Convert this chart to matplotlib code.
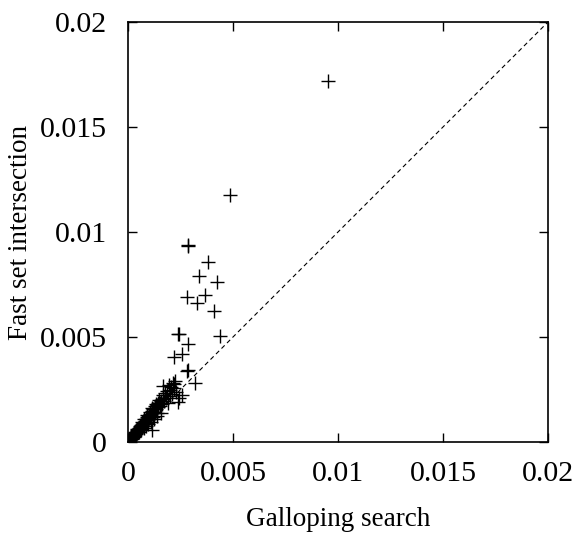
import numpy as np
import matplotlib.pyplot as plt

# timings in milliseconds, converted to seconds below
gallop_ms = [0.02, 0.04, 0.05, 0.07, 0.08, 0.10, 0.11, 0.13, 0.15, 0.16, 0.18, 0.20,
             0.21, 0.23, 0.25, 0.27, 0.28, 0.30, 0.32, 0.34, 0.36, 0.38, 0.40, 0.42,
             0.44, 0.46, 0.48, 0.50, 0.52, 0.55, 0.57, 0.60, 0.62, 0.65, 0.67, 0.70,
             0.72, 0.75, 0.78, 0.80, 0.83, 0.85, 0.88, 0.90, 0.93, 0.95, 0.98, 1.00,
             1.03, 1.06, 1.10, 1.12, 1.15, 1.18, 1.20, 1.25, 1.28, 1.30, 1.35, 1.38,
             1.42, 1.45, 1.50, 1.55, 1.60, 1.65, 1.70,
             0.30, 0.60, 0.90, 1.13, 1.20, 1.40,
             0.12, 0.22, 0.35, 0.45, 0.55, 0.68, 0.78, 0.92, 1.05, 1.16, 1.32, 1.48,
             0.18, 0.28, 0.40, 0.52, 0.63, 0.74, 0.86, 0.97, 1.08, 1.22, 1.36, 1.58,
             1.52, 1.67, 1.67, 1.80, 1.90, 2.00, 2.05, 2.14, 2.20, 2.24, 2.38, 2.57,
             2.30, 1.95, 2.10, 2.45, 1.85, 1.75, 2.02, 2.18,
             3.20, 2.81, 2.85, 2.19, 2.57, 2.86, 2.43, 2.38, 4.38, 4.10, 3.29, 3.67,
             2.81, 4.24, 3.38, 3.81, 2.84, 2.86, 4.88, 9.52]
fast_ms = [0.03, 0.05, 0.07, 0.08, 0.11, 0.12, 0.15, 0.15, 0.19, 0.20, 0.22, 0.24,
           0.28, 0.27, 0.31, 0.33, 0.36, 0.35, 0.40, 0.41, 0.45, 0.44, 0.50, 0.52,
           0.55, 0.53, 0.60, 0.62, 0.66, 0.63, 0.70, 0.74, 0.80, 0.75, 0.84, 0.86,
           0.92, 0.88, 0.97, 1.02, 0.95, 1.08, 1.10, 1.18, 1.05, 1.20, 1.25, 1.15,
           1.30, 1.35, 1.25, 1.42, 1.48, 1.36, 1.55, 1.45, 1.62, 1.70, 1.55, 1.75,
           1.65, 1.85, 1.72, 1.95, 1.82, 2.05, 1.95,
           0.30, 0.60, 0.90, 0.57, 1.20, 1.40,
           0.18, 0.32, 0.50, 0.64, 0.78, 0.95, 1.10, 1.30, 1.45, 1.62, 1.80, 2.00,
           0.16, 0.25, 0.36, 0.46, 0.56, 0.66, 0.76, 0.86, 0.96, 1.08, 1.22, 1.40,
           1.86, 2.24, 2.67, 2.10, 1.86, 2.48, 2.60, 2.81, 2.75, 2.90, 1.90, 2.24,
           2.40, 2.70, 2.30, 2.10, 2.45, 2.35, 2.20, 2.55,
           2.80, 3.38, 3.42, 4.05, 4.19, 4.67, 5.14, 5.14, 5.05, 6.24, 6.62, 7.00,
           6.90, 7.62, 7.90, 8.57, 9.33, 9.36, 11.76, 17.20]

ticks = [0, 0.005, 0.01, 0.015, 0.02]
tick_labels = ['0', '0.005', '0.01', '0.015', '0.02']

x = np.array(gallop_ms) / 1000
y = np.array(fast_ms) / 1000

plt.rcParams['font.family'] = ['Liberation Serif', 'DejaVu Serif']
plt.rcParams['font.size'] = 19.5

fig = plt.figure(figsize=(5.8, 5.35), dpi=100)
ax = fig.add_axes([0.2207, 0.1738, 0.7241, 0.7851])

ax.plot([0, 0.02], [0, 0.02], color='black', lw=0.8, dashes=(4, 3))
ax.plot(x, y, linestyle='none', marker='+', color='black', ms=10, mew=1.0)

ax.set_xlim(0, 0.02)
ax.set_ylim(0, 0.02)
ax.set_xticks(ticks)
ax.set_xticklabels(tick_labels)
ax.set_yticks(ticks)
ax.set_yticklabels(tick_labels)
ax.tick_params(direction='in', length=6.5, width=1, top=True, right=True,
               labelsize=21.5)
ax.tick_params(axis='x', pad=14)
ax.tick_params(axis='y', pad=15)
for s in ax.spines.values():
  s.set_linewidth(1.2)

ax.set_xlabel('Galloping search')
ax.set_ylabel('Fast set intersection')
ax.xaxis.set_label_coords(0.5, -0.155)
ax.yaxis.set_label_coords(-0.226, 0.5)

plt.savefig('out.png')
